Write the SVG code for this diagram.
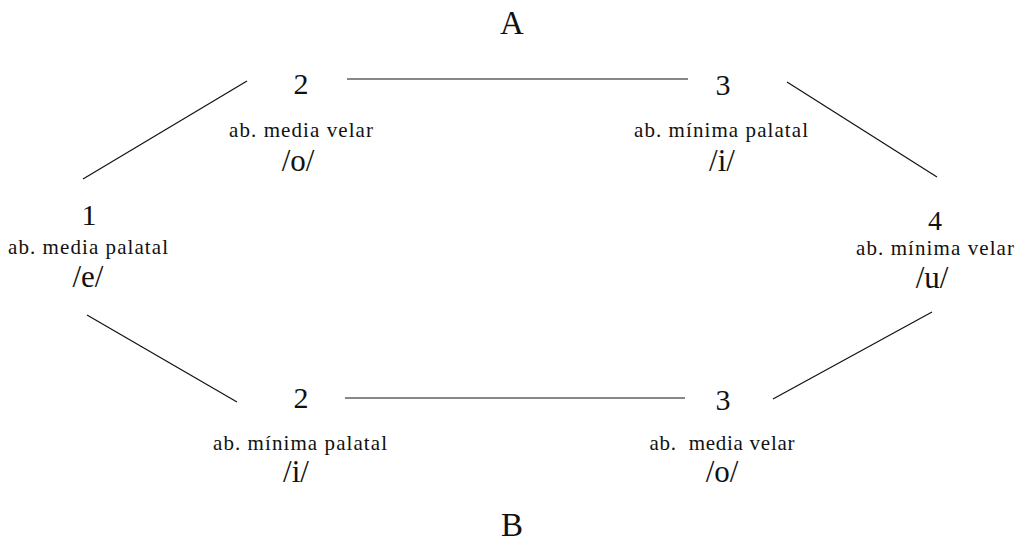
<svg xmlns="http://www.w3.org/2000/svg" width="1022" height="541" viewBox="0 0 1022 541">
<style>
text{font-family:"Liberation Serif","Times New Roman",serif;fill:#111;text-anchor:middle}
.t{font-size:33px}
.n{font-size:30px}
.l{font-size:21px}
.p{font-size:31px}
.c line{stroke:#111;stroke-width:1.2}
</style>
<rect width="1022" height="541" fill="#fff"/>
<g id="title-A"><text class="t" x="512" y="34">A</text></g>
<g id="title-B"><text class="t" x="512" y="536">B</text></g>
<g class="c" id="connectors">
<line x1="347" y1="79" x2="688" y2="79"/>
<line x1="83" y1="179" x2="247" y2="81"/>
<line x1="787" y1="82" x2="937" y2="177"/>
<line x1="87" y1="315" x2="237" y2="402"/>
<line x1="345" y1="398" x2="685" y2="398"/>
<line x1="773" y1="399" x2="932" y2="312"/>
</g>
<g id="node-1">
<text class="n" x="89" y="225">1</text>
<text class="l" x="88" y="254" textLength="160">ab. media palatal</text>
<text class="p" x="88" y="287">/e/</text>
</g>
<g id="node-2-top">
<text class="n" x="301" y="94">2</text>
<text class="l" x="301" y="137" textLength="144">ab. media velar</text>
<text class="p" x="298" y="171">/o/</text>
</g>
<g id="node-3-top">
<text class="n" x="723" y="95">3</text>
<text class="l" x="721" y="137" textLength="174">ab. mínima palatal</text>
<text class="p" x="722" y="171">/i/</text>
</g>
<g id="node-4">
<text class="n" x="935" y="230" style="font-size:28px">4</text>
<text class="l" x="935" y="255" textLength="158">ab. mínima velar</text>
<text class="p" x="932" y="288">/u/</text>
</g>
<g id="node-2-bottom">
<text class="n" x="301" y="408">2</text>
<text class="l" x="300" y="450" textLength="174">ab. mínima palatal</text>
<text class="p" x="296" y="482">/i/</text>
</g>
<g id="node-3-bottom">
<text class="n" x="723" y="410">3</text>
<text class="l" x="722" y="450" textLength="145" xml:space="preserve">ab.  media velar</text>
<text class="p" x="722" y="482">/o/</text>
</g>
</svg>
